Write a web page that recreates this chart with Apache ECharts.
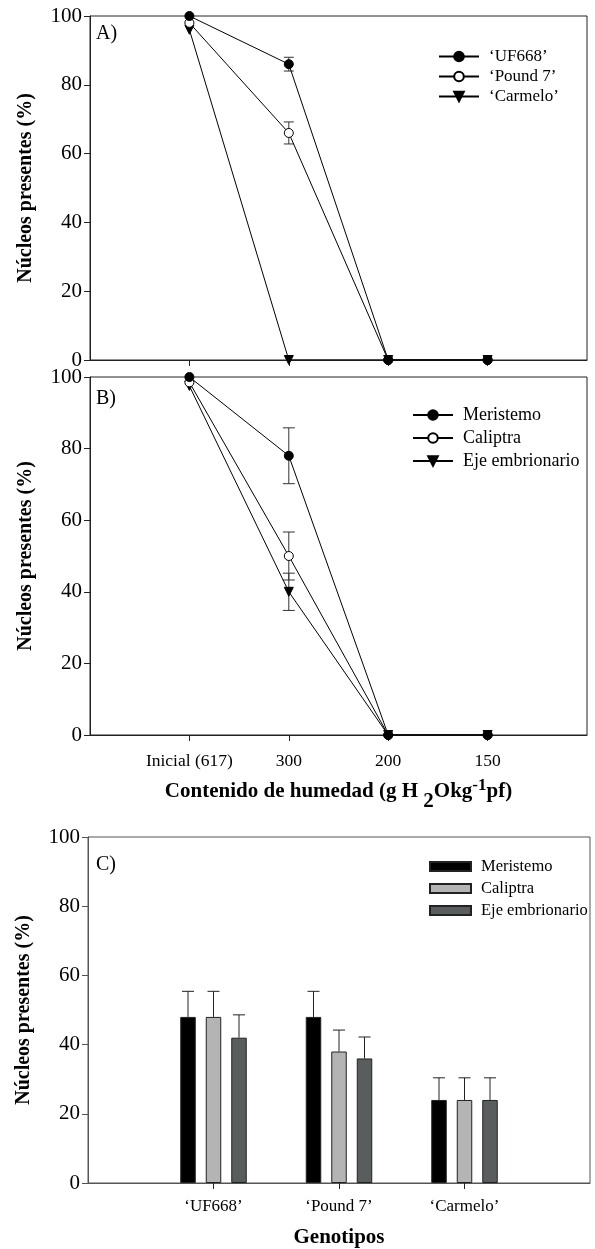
<!DOCTYPE html>
<html><head><meta charset="utf-8">
<script src="https://cdn.jsdelivr.net/npm/echarts@6/dist/echarts.min.js"></script>
<style>html,body{margin:0;padding:0;background:#fff}#c{width:595px;height:1249px}</style>
</head><body><div id="c"></div>
<script>
// ---- data ----
const humidityLabels = ['Inicial (617)', '300', '200', '150'];
const genotypeLabels = ['\u2018UF668\u2019', '\u2018Pound 7\u2019', '\u2018Carmelo\u2019'];
const yTicks = [0, 20, 40, 60, 80, 100];

// Panel A (genotypes)
const uf668 = [100, 86, 0, 0];
const uf668Err = [0, 2, 0, 0];
const pound7 = [98, 66, 0, 0];
const pound7Err = [0, 3.2, 0, 0];
const carmelo = [96, 0, 0, 0];
const carmeloErr = [0, 0, 0, 0];

// Panel B (tissues)
const meristemoB = [100, 78, 0, 0];
const meristemoBErr = [0, 7.8, 0, 0];
const caliptraB = [98.5, 50, 0, 0];
const caliptraBErr = [0, 6.7, 0, 0];
const ejeB = [97.5, 40, 0, 0];
const ejeBErr = [0, 5.2, 0, 0];

// Panel C (bars)
const meristemoC = [48, 48, 24];
const meristemoCErr = [7.4, 7.4, 6.4];
const caliptraC = [48, 38, 24];
const caliptraCErr = [7.4, 6.2, 6.4];
const ejeC = [42, 36, 24];
const ejeCErr = [6.6, 6.2, 6.4];

// ---- helpers ----
const FONT = 'Liberation Serif';
const padCats = arr => ['', ...arr, ' '];
const padVals = arr => ['-', ...arr, '-'];
const errData = (vals, errs) => vals.map((v, i) => [i + 1, v, errs[i]]).filter(d => d[2] > 0);
const isReal = (idx, val) => String(val).trim() !== '';

function errRender(capW, offset, onlyUp, color) {
  return function (params, api) {
    const x = api.value(0), v = api.value(1), e = api.value(2);
    const up = api.coord([x, v + e]);
    const lo = api.coord([x, onlyUp ? v : v - e]);
    const cx = up[0] + offset;
    const st = { stroke: color, lineWidth: 1 };
    const ch = [
      { type: 'line', shape: { x1: cx, y1: up[1], x2: cx, y2: lo[1] }, style: st },
      { type: 'line', shape: { x1: cx - capW / 2, y1: up[1], x2: cx + capW / 2, y2: up[1] }, style: st }
    ];
    if (!onlyUp) ch.push({ type: 'line', shape: { x1: cx - capW / 2, y1: lo[1], x2: cx + capW / 2, y2: lo[1] }, style: st });
    return { type: 'group', children: ch };
  };
}

const frameA = '#222', frameC = '#555';

function yAxisFor(gi, color) {
  return {
    gridIndex: gi, type: 'value', min: 0, max: 100, interval: 20,
    axisLine: { show: true, lineStyle: { color: color, width: 1 } },
    axisTick: { show: true, length: 6, inside: false, lineStyle: { color: color } },
    splitLine: { show: false },
    axisLabel: { color: '#000', fontFamily: FONT, fontSize: 21, margin: 8 },
    name: 'N\u00facleos presentes (%)', nameLocation: 'middle', nameGap: 54,
    nameTextStyle: { color: '#000', fontFamily: FONT, fontSize: 20, fontWeight: 'bold' }
  };
}

const lineStyles = [
  { symbol: 'circle', symbolSize: 9, symbolRotate: 0, itemStyle: { color: '#000', borderColor: '#000', borderWidth: 1 } },
  { symbol: 'circle', symbolSize: 9, symbolRotate: 0, itemStyle: { color: '#fff', borderColor: '#000', borderWidth: 1 } },
  { symbol: 'triangle', symbolSize: 9, symbolRotate: 180, itemStyle: { color: '#000', borderColor: '#000', borderWidth: 1 } }
];

function lineSeries(name, vals, k, gi) {
  return Object.assign({
    name: name, type: 'line', xAxisIndex: gi, yAxisIndex: gi,
    data: padVals(vals), connectNulls: false,
    lineStyle: { color: '#000', width: 1 }, showSymbol: true, z: 3, animation: false
  }, lineStyles[k]);
}
function errSeries(vals, errs, gi, capW) {
  return {
    type: 'custom', xAxisIndex: gi, yAxisIndex: gi, z: 2, animation: false,
    renderItem: errRender(capW, 0, false, '#333'),
    encode: { x: 0, y: 1 }, data: errData(vals, errs)
  };
}

const barW = 15.5, barGapPx = 10;
const barColors = ['#000000', '#b4b4b4', '#5a5d5d'];
function barSeries(name, vals, k) {
  return {
    name: name, type: 'bar', xAxisIndex: 2, yAxisIndex: 2, data: padVals(vals),
    barWidth: barW, barGap: (barGapPx / barW * 100) + '%', animation: false,
    itemStyle: { color: barColors[k], borderColor: '#222', borderWidth: 1 }
  };
}
function barErrSeries(vals, errs, k) {
  const off = (k - 1) * (barW + barGapPx);
  return {
    type: 'custom', xAxisIndex: 2, yAxisIndex: 2, z: 3, animation: false,
    renderItem: errRender(12, off, true, '#222'),
    encode: { x: 0, y: 1 }, data: vals.map((v, i) => [i + 1, v, errs[i]])
  };
}

const xTitleRich = {
  t: { fontFamily: FONT, fontSize: 21, fontWeight: 'bold', color: '#000', lineHeight: 22, verticalAlign: 'middle' },
  s: { fontFamily: FONT, fontSize: 21, fontWeight: 'bold', color: '#000', lineHeight: 22, verticalAlign: 'middle', padding: [20, 0, 0, 0] },
  p: { fontFamily: FONT, fontSize: 17, fontWeight: 'bold', color: '#000', lineHeight: 18, verticalAlign: 'middle', padding: [0, 0, 11, 0] }
};

const legendText = size => ({ color: '#000', fontFamily: FONT, fontSize: size, lineHeight: size, padding: [0, 0, 0, 5] });

const option = {
  backgroundColor: '#fff',
  animation: false,
  title: [
    { text: 'A)', left: 96, top: 24, padding: 0, textStyle: { fontFamily: FONT, fontSize: 20, fontWeight: 'normal', color: '#000' } },
    { text: 'B)', left: 96, top: 389, padding: 0, textStyle: { fontFamily: FONT, fontSize: 20, fontWeight: 'normal', color: '#000' } },
    { text: 'C)', left: 96, top: 855, padding: 0, textStyle: { fontFamily: FONT, fontSize: 20, fontWeight: 'normal', color: '#000' } }
  ],
  grid: [
    { left: 90, top: 16, width: 497, height: 344, show: true, borderColor: frameA, borderWidth: 1, backgroundColor: 'transparent' },
    { left: 90, top: 377, width: 497, height: 358, show: true, borderColor: frameA, borderWidth: 1, backgroundColor: 'transparent' },
    { left: 88, top: 837, width: 502, height: 346, show: true, borderColor: frameC, borderWidth: 1, backgroundColor: 'transparent' }
  ],
  legend: [
    { orient: 'vertical', left: 433, top: 43, itemWidth: 40, itemHeight: 12, itemGap: 3,
      data: genotypeLabels.slice(), textStyle: legendText(17) },
    { orient: 'vertical', left: 407, top: 401, itemWidth: 40, itemHeight: 12, itemGap: 5,
      data: ['Meristemo', 'Caliptra', 'Eje embrionario'], textStyle: legendText(18) },
    { orient: 'vertical', left: 424, top: 853, itemWidth: 41, itemHeight: 9, itemGap: 5, icon: 'rect',
      data: ['Meristemo ', 'Caliptra ', 'Eje embrionario '], textStyle: legendText(16.5) }
  ],
  xAxis: [
    { gridIndex: 0, type: 'category', data: padCats(humidityLabels), boundaryGap: false,
      axisLine: { lineStyle: { color: frameA } },
      axisTick: { show: true, length: 6, interval: isReal, lineStyle: { color: frameA } },
      axisLabel: { show: false } },
    { gridIndex: 1, type: 'category', data: padCats(humidityLabels), boundaryGap: false,
      axisLine: { lineStyle: { color: frameA } },
      axisTick: { show: true, length: 6, interval: isReal, lineStyle: { color: frameA } },
      axisLabel: { show: true, interval: isReal, color: '#000', fontFamily: FONT, fontSize: 17.5, margin: 17 },
      name: '{t|Contenido de humedad (g H }{s|2}{t|Okg}{p|-1}{t|pf)}',
      nameLocation: 'middle', nameGap: 43,
      nameTextStyle: { rich: xTitleRich } },
    { gridIndex: 2, type: 'category', data: padCats(genotypeLabels), boundaryGap: false,
      axisLine: { lineStyle: { color: frameC } },
      axisTick: { show: true, length: 6, interval: isReal, lineStyle: { color: '#222' } },
      axisLabel: { show: true, interval: isReal, color: '#000', fontFamily: FONT, fontSize: 17, margin: 15 },
      name: 'Genotipos', nameLocation: 'middle', nameGap: 44,
      nameTextStyle: { color: '#000', fontFamily: FONT, fontSize: 21, fontWeight: 'bold' } }
  ],
  yAxis: [yAxisFor(0, frameA), yAxisFor(1, frameA), yAxisFor(2, frameC)],
  series: [
    errSeries(uf668, uf668Err, 0, 10),
    errSeries(pound7, pound7Err, 0, 10),
    errSeries(carmelo, carmeloErr, 0, 10),
    lineSeries(genotypeLabels[2], carmelo, 2, 0),
    lineSeries(genotypeLabels[1], pound7, 1, 0),
    lineSeries(genotypeLabels[0], uf668, 0, 0),
    errSeries(meristemoB, meristemoBErr, 1, 12),
    errSeries(caliptraB, caliptraBErr, 1, 12),
    errSeries(ejeB, ejeBErr, 1, 12),
    lineSeries('Eje embrionario', ejeB, 2, 1),
    lineSeries('Caliptra', caliptraB, 1, 1),
    lineSeries('Meristemo', meristemoB, 0, 1),
    barSeries('Meristemo ', meristemoC, 0),
    barSeries('Caliptra ', caliptraC, 1),
    barSeries('Eje embrionario ', ejeC, 2),
    barErrSeries(meristemoC, meristemoCErr, 0),
    barErrSeries(caliptraC, caliptraCErr, 1),
    barErrSeries(ejeC, ejeCErr, 2)
  ]
};

const chart = echarts.init(document.getElementById('c'), null, { renderer: 'canvas' });
chart.setOption(option);
</script>
</body></html>
